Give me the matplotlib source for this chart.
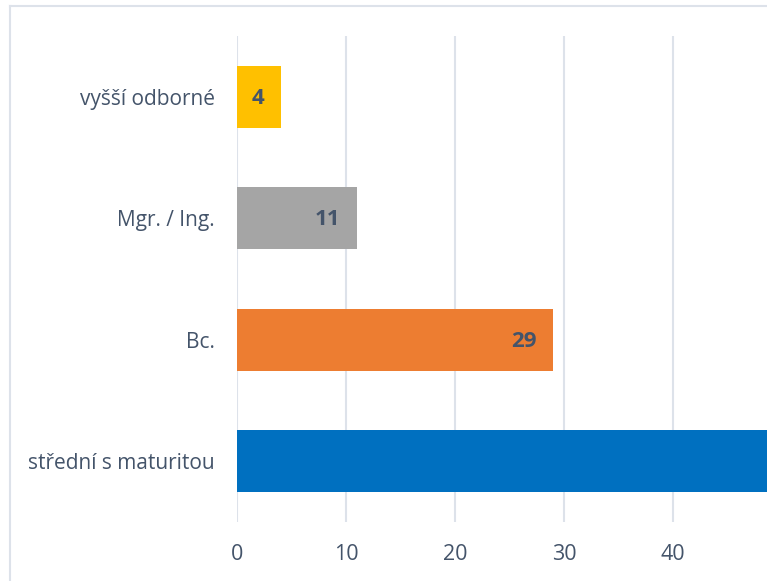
import matplotlib.pyplot as plt
from matplotlib.lines import Line2D

categories = ['střední s maturitou', 'Bc.', 'Mgr. / Ing.', 'vyšší odborné']
values = [56, 29, 11, 4]
colors = ['#0070C0', '#ED7D31', '#A5A5A5', '#FFC000']
ticks = [0, 10, 20, 30, 40]

text_color = '#44546A'
plt.rcParams['font.family'] = ['Open Sans', 'DejaVu Sans']

fig = plt.figure(figsize=(7.67, 5.81), dpi=100)
ax = fig.add_axes([237 / 767, 1 - 522 / 581, 1 - 237 / 767, 486 / 581])

bars = ax.barh(range(len(categories)), values, height=0.51, color=colors, zorder=2)

ax.set_xlim(0, 530 / 10.9)
ax.set_ylim(-0.5, len(categories) - 0.5)
ax.set_xticks(ticks)
ax.set_yticks(range(len(categories)))
ax.set_yticklabels(categories)
ax.tick_params(axis='y', length=0, labelsize=15, labelcolor=text_color, pad=16)
ax.tick_params(axis='x', length=0, labelsize=15.5, labelcolor=text_color, pad=16)
for s in ax.spines.values():
    s.set_visible(False)
ax.grid(axis='x', color='#DDE2EA', linewidth=1.5, zorder=0)
ax.set_axisbelow(True)

for b, v in zip(bars, values):
    ax.annotate(str(v), (b.get_width(), b.get_y() + b.get_height() / 2),
                xytext=(-12, -1), textcoords='offset points', ha='right', va='center',
                fontsize=16, fontweight='bold', color=text_color,
                annotation_clip=True, clip_on=True)

# outer chart border (cropped on the right and bottom)
border = dict(transform=fig.transFigure, color='#DDE2EA', linewidth=1.5)
fig.lines.append(Line2D([10 / 767, 1], [1 - 6 / 581, 1 - 6 / 581], **border))
fig.lines.append(Line2D([10 / 767, 10 / 767], [0, 1 - 6 / 581], **border))

fig.savefig('out.png', dpi=100)
